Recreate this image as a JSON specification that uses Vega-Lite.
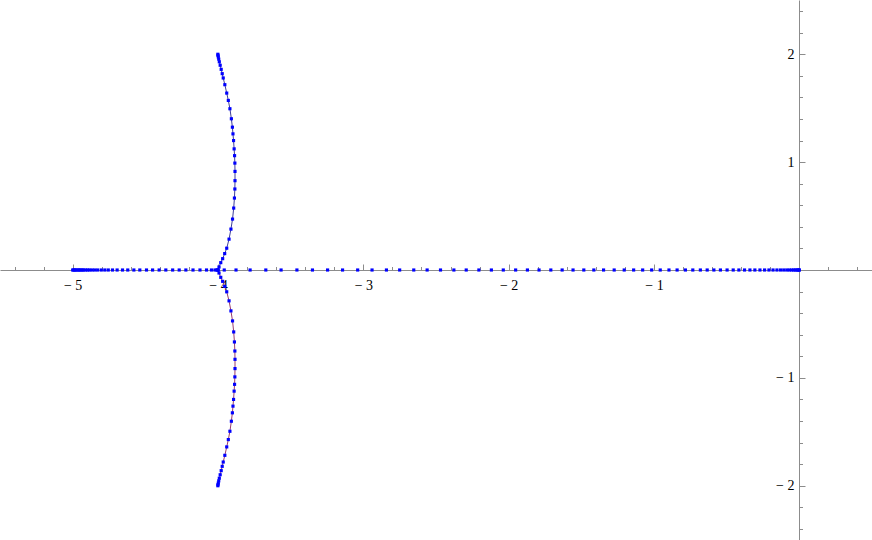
{
  "$schema": "https://vega.github.io/schema/vega-lite/v6.json",
  "width": 872,
  "height": 540,
  "autosize": "none",
  "padding": 0,
  "background": "white",
  "config": {"view": {"stroke": null}},
  "datasets": {
    "pts": [
      {"branch": "left", "x": -5.000, "y": 0}, {"branch": "left", "x": -4.993, "y": 0}, {"branch": "left", "x": -4.986, "y": 0},
      {"branch": "left", "x": -4.979, "y": 0}, {"branch": "left", "x": -4.970, "y": 0}, {"branch": "left", "x": -4.960, "y": 0},
      {"branch": "left", "x": -4.952, "y": 0}, {"branch": "left", "x": -4.943, "y": 0}, {"branch": "left", "x": -4.933, "y": 0},
      {"branch": "left", "x": -4.924, "y": 0}, {"branch": "left", "x": -4.910, "y": 0}, {"branch": "left", "x": -4.897, "y": 0},
      {"branch": "left", "x": -4.883, "y": 0}, {"branch": "left", "x": -4.866, "y": 0}, {"branch": "left", "x": -4.848, "y": 0},
      {"branch": "left", "x": -4.828, "y": 0}, {"branch": "left", "x": -4.803, "y": 0}, {"branch": "left", "x": -4.779, "y": 0},
      {"branch": "left", "x": -4.755, "y": 0}, {"branch": "left", "x": -4.726, "y": 0}, {"branch": "left", "x": -4.694, "y": 0},
      {"branch": "left", "x": -4.657, "y": 0}, {"branch": "left", "x": -4.621, "y": 0}, {"branch": "left", "x": -4.579, "y": 0},
      {"branch": "left", "x": -4.538, "y": 0}, {"branch": "left", "x": -4.492, "y": 0}, {"branch": "left", "x": -4.450, "y": 0},
      {"branch": "left", "x": -4.405, "y": 0}, {"branch": "left", "x": -4.359, "y": 0}, {"branch": "left", "x": -4.312, "y": 0},
      {"branch": "left", "x": -4.267, "y": 0}, {"branch": "left", "x": -4.221, "y": 0}, {"branch": "left", "x": -4.172, "y": 0},
      {"branch": "left", "x": -4.124, "y": 0}, {"branch": "left", "x": -4.079, "y": 0}, {"branch": "left", "x": -4.045, "y": 0},
      {"branch": "left", "x": -4.021, "y": 0}, {"branch": "left", "x": -4.007, "y": 0}, {"branch": "left", "x": -4.000, "y": 0},
      {"branch": "right", "x": -3.957, "y": 0}, {"branch": "right", "x": -3.876, "y": 0}, {"branch": "right", "x": -3.779, "y": 0},
      {"branch": "right", "x": -3.671, "y": 0}, {"branch": "right", "x": -3.566, "y": 0}, {"branch": "right", "x": -3.457, "y": 0},
      {"branch": "right", "x": -3.350, "y": 0}, {"branch": "right", "x": -3.246, "y": 0}, {"branch": "right", "x": -3.143, "y": 0},
      {"branch": "right", "x": -3.039, "y": 0}, {"branch": "right", "x": -2.940, "y": 0}, {"branch": "right", "x": -2.841, "y": 0},
      {"branch": "right", "x": -2.750, "y": 0}, {"branch": "right", "x": -2.653, "y": 0}, {"branch": "right", "x": -2.561, "y": 0},
      {"branch": "right", "x": -2.469, "y": 0}, {"branch": "right", "x": -2.377, "y": 0}, {"branch": "right", "x": -2.292, "y": 0},
      {"branch": "right", "x": -2.205, "y": 0}, {"branch": "right", "x": -2.119, "y": 0}, {"branch": "right", "x": -2.037, "y": 0},
      {"branch": "right", "x": -1.952, "y": 0}, {"branch": "right", "x": -1.871, "y": 0}, {"branch": "right", "x": -1.791, "y": 0},
      {"branch": "right", "x": -1.710, "y": 0}, {"branch": "right", "x": -1.632, "y": 0}, {"branch": "right", "x": -1.557, "y": 0},
      {"branch": "right", "x": -1.483, "y": 0}, {"branch": "right", "x": -1.414, "y": 0}, {"branch": "right", "x": -1.347, "y": 0},
      {"branch": "right", "x": -1.274, "y": 0}, {"branch": "right", "x": -1.205, "y": 0}, {"branch": "right", "x": -1.140, "y": 0},
      {"branch": "right", "x": -1.078, "y": 0}, {"branch": "right", "x": -1.016, "y": 0}, {"branch": "right", "x": -0.957, "y": 0},
      {"branch": "right", "x": -0.897, "y": 0}, {"branch": "right", "x": -0.841, "y": 0}, {"branch": "right", "x": -0.784, "y": 0},
      {"branch": "right", "x": -0.733, "y": 0}, {"branch": "right", "x": -0.681, "y": 0}, {"branch": "right", "x": -0.634, "y": 0},
      {"branch": "right", "x": -0.588, "y": 0}, {"branch": "right", "x": -0.543, "y": 0}, {"branch": "right", "x": -0.497, "y": 0},
      {"branch": "right", "x": -0.455, "y": 0}, {"branch": "right", "x": -0.416, "y": 0}, {"branch": "right", "x": -0.377, "y": 0},
      {"branch": "right", "x": -0.340, "y": 0}, {"branch": "right", "x": -0.306, "y": 0}, {"branch": "right", "x": -0.271, "y": 0},
      {"branch": "right", "x": -0.239, "y": 0}, {"branch": "right", "x": -0.209, "y": 0}, {"branch": "right", "x": -0.181, "y": 0},
      {"branch": "right", "x": -0.154, "y": 0}, {"branch": "right", "x": -0.129, "y": 0}, {"branch": "right", "x": -0.107, "y": 0},
      {"branch": "right", "x": -0.086, "y": 0}, {"branch": "right", "x": -0.069, "y": 0}, {"branch": "right", "x": -0.053, "y": 0},
      {"branch": "right", "x": -0.039, "y": 0}, {"branch": "right", "x": -0.028, "y": 0}, {"branch": "right", "x": -0.017, "y": 0},
      {"branch": "right", "x": -0.009, "y": 0}, {"branch": "right", "x": -0.003, "y": 0}, {"branch": "right", "x": 0.000, "y": 0},
      {"branch": "upper", "x": -4.000, "y": 0.000}, {"branch": "upper", "x": -3.993, "y": 0.028}, {"branch": "upper", "x": -3.981, "y": 0.068},
      {"branch": "upper", "x": -3.968, "y": 0.105}, {"branch": "upper", "x": -3.954, "y": 0.152}, {"branch": "upper", "x": -3.940, "y": 0.202},
      {"branch": "upper", "x": -3.924, "y": 0.286}, {"branch": "upper", "x": -3.911, "y": 0.379}, {"branch": "upper", "x": -3.900, "y": 0.472},
      {"branch": "upper", "x": -3.892, "y": 0.574}, {"branch": "upper", "x": -3.887, "y": 0.667}, {"branch": "upper", "x": -3.884, "y": 0.751},
      {"branch": "upper", "x": -3.883, "y": 0.828}, {"branch": "upper", "x": -3.883, "y": 0.914}, {"branch": "upper", "x": -3.884, "y": 0.991},
      {"branch": "upper", "x": -3.886, "y": 1.060}, {"branch": "upper", "x": -3.889, "y": 1.123}, {"branch": "upper", "x": -3.893, "y": 1.200},
      {"branch": "upper", "x": -3.897, "y": 1.262}, {"branch": "upper", "x": -3.901, "y": 1.324}, {"branch": "upper", "x": -3.908, "y": 1.402},
      {"branch": "upper", "x": -3.918, "y": 1.495}, {"branch": "upper", "x": -3.929, "y": 1.572}, {"branch": "upper", "x": -3.940, "y": 1.640},
      {"branch": "upper", "x": -3.953, "y": 1.718}, {"branch": "upper", "x": -3.964, "y": 1.780}, {"branch": "upper", "x": -3.971, "y": 1.820},
      {"branch": "upper", "x": -3.978, "y": 1.860}, {"branch": "upper", "x": -3.985, "y": 1.898}, {"branch": "upper", "x": -3.991, "y": 1.930},
      {"branch": "upper", "x": -3.995, "y": 1.955}, {"branch": "upper", "x": -3.998, "y": 1.975}, {"branch": "upper", "x": -4.000, "y": 1.990},
      {"branch": "upper", "x": -4.001, "y": 2.000},
      {"branch": "lower", "x": -4.000, "y": 0.000}, {"branch": "lower", "x": -3.993, "y": -0.028}, {"branch": "lower", "x": -3.981, "y": -0.068},
      {"branch": "lower", "x": -3.968, "y": -0.105}, {"branch": "lower", "x": -3.954, "y": -0.152}, {"branch": "lower", "x": -3.940, "y": -0.202},
      {"branch": "lower", "x": -3.924, "y": -0.286}, {"branch": "lower", "x": -3.911, "y": -0.379}, {"branch": "lower", "x": -3.900, "y": -0.472},
      {"branch": "lower", "x": -3.892, "y": -0.574}, {"branch": "lower", "x": -3.887, "y": -0.667}, {"branch": "lower", "x": -3.884, "y": -0.751},
      {"branch": "lower", "x": -3.883, "y": -0.828}, {"branch": "lower", "x": -3.883, "y": -0.914}, {"branch": "lower", "x": -3.884, "y": -0.991},
      {"branch": "lower", "x": -3.886, "y": -1.060}, {"branch": "lower", "x": -3.889, "y": -1.123}, {"branch": "lower", "x": -3.893, "y": -1.200},
      {"branch": "lower", "x": -3.897, "y": -1.262}, {"branch": "lower", "x": -3.901, "y": -1.324}, {"branch": "lower", "x": -3.908, "y": -1.402},
      {"branch": "lower", "x": -3.918, "y": -1.495}, {"branch": "lower", "x": -3.929, "y": -1.572}, {"branch": "lower", "x": -3.940, "y": -1.640},
      {"branch": "lower", "x": -3.953, "y": -1.718}, {"branch": "lower", "x": -3.964, "y": -1.780}, {"branch": "lower", "x": -3.971, "y": -1.820},
      {"branch": "lower", "x": -3.978, "y": -1.860}, {"branch": "lower", "x": -3.985, "y": -1.898}, {"branch": "lower", "x": -3.991, "y": -1.930},
      {"branch": "lower", "x": -3.995, "y": -1.955}, {"branch": "lower", "x": -3.998, "y": -1.975}, {"branch": "lower", "x": -4.000, "y": -1.990},
      {"branch": "lower", "x": -4.001, "y": -2.000}
    ]
  },
  "data": {"name": "pts"},
  "encoding": {
    "x": {
      "field": "x", "type": "quantitative",
      "scale": {"domain": [-5.5, 0.5], "nice": false, "zero": false},
      "axis": {
        "orient": "bottom", "offset": -270, "title": null, "grid": false,
        "values": [-5.4, -5.2, -5, -4.8, -4.6, -4.4, -4.2, -4, -3.8, -3.6, -3.4, -3.2, -3, -2.8, -2.6, -2.4, -2.2, -2, -1.8, -1.6, -1.4, -1.2, -1, -0.8, -0.6, -0.4, -0.2, 0, 0.2, 0.4],
        "tickSize": {"condition": {"test": "abs(datum.value - round(datum.value)) < 0.001", "value": -6}, "value": -3.5},
        "tickColor": "#8c8c8c", "domainColor": "#8c8c8c", "tickWidth": 1, "domainWidth": 1,
        "labelExpr": "abs(datum.value - round(datum.value)) < 0.001 && round(datum.value) != 0 ? (datum.value < 0 ? '\u2212 ' + abs(round(datum.value)) : '' + round(datum.value)) : ''",
        "labelFont": "Liberation Serif", "labelFontSize": 14, "labelColor": "#000000",
        "labelPadding": 14, "labelOverlap": false, "labelFlush": false, "labelBound": false
      }
    },
    "y": {
      "field": "y", "type": "quantitative",
      "scale": {"domain": [-2.503, 2.503], "nice": false, "zero": false},
      "axis": {
        "orient": "left", "offset": -799, "title": null, "grid": false,
        "values": [-2.4, -2.2, -2, -1.8, -1.6, -1.4, -1.2, -1, -0.8, -0.6, -0.4, -0.2, 0, 0.2, 0.4, 0.6, 0.8, 1, 1.2, 1.4, 1.6, 1.8, 2, 2.2, 2.4],
        "tickSize": {"condition": {"test": "abs(datum.value - round(datum.value)) < 0.001", "value": -6}, "value": -3.5},
        "tickColor": "#8c8c8c", "domainColor": "#8c8c8c", "tickWidth": 1, "domainWidth": 1,
        "labelExpr": "abs(datum.value - round(datum.value)) < 0.001 && round(datum.value) != 0 ? (datum.value < 0 ? '\u2212 ' + abs(round(datum.value)) : '' + round(datum.value)) : ''",
        "labelFont": "Liberation Serif", "labelFontSize": 14, "labelColor": "#000000",
        "labelPadding": 11, "labelOverlap": false, "labelFlush": false, "labelBound": false
      }
    }
  },
  "layer": [
    {
      "transform": [{"filter": "datum.branch === 'upper' || datum.branch === 'lower'"}],
      "mark": {"type": "line", "strokeWidth": 1, "interpolate": "linear"},
      "encoding": {
        "detail": {"field": "branch"},
        "order": {"field": "y"},
        "color": {
          "field": "branch", "type": "nominal", "legend": null,
          "scale": {"domain": ["upper", "lower"], "range": ["#3d3d99", "#993d6b"]}
        }
      }
    },
    {
      "mark": {"type": "point", "filled": true, "shape": "square", "size": 10, "color": "#0000ff", "opacity": 1}
    }
  ]
}
